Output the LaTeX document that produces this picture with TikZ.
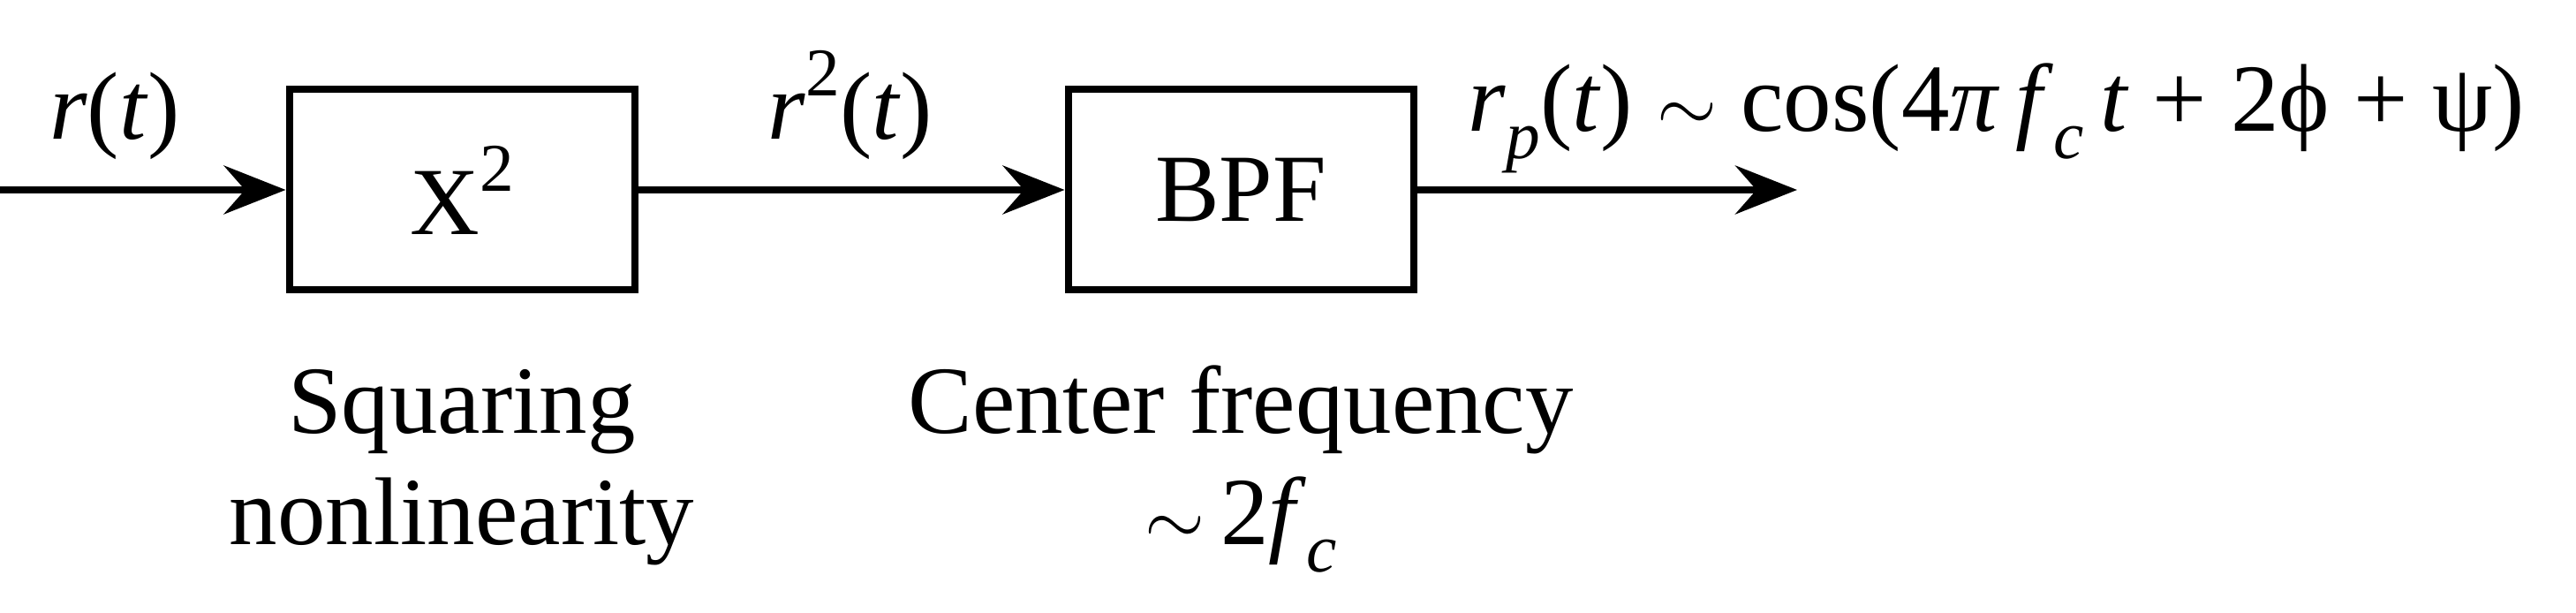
\documentclass[tikz,border=0pt]{standalone}
\usepackage{fontspec}
\setmainfont{Liberation Serif}
\usetikzlibrary{arrows.meta, positioning}
\tikzset{
	blk/.style ={rectangle, draw=black, line width=0.08cm, minimum width=3.91cm, minimum height=2.27cm, inner sep=0pt},
	sig/.style ={-{Stealth[length=7mm, width=5.5mm, inset=2.4mm]}, line width=0.08cm},
	lbl/.style ={anchor=base, inner sep=0pt},
	note/.style={align=center, anchor=base, inner sep=0pt},
}
\newcommand{\vi}[1]{\textit{#1}}
\newcommand{\lo}[1]{\raisebox{-0.28em}{\fontsize{22}{22}\selectfont #1}}
\newcommand{\hi}[1]{\raisebox{0.45em}{\fontsize{22}{22}\selectfont #1}}

\begin{document}
\begin{tikzpicture}[every node/.style={font=\fontsize{31}{36}\selectfont}]
	\useasboundingbox (0,0) rectangle (29.17,6.94);
	\coordinate (in) at (0,4.79);
	\node[blk] (sq) at (5.23,4.79) {X\hi{2}};
	\node[blk] (bpf) at (14.05,4.79) {BPF};
	\coordinate (out) at (20.35,4.79);
	\draw[sig] (in) -- (sq); \draw[sig] (sq) -- (bpf); \draw[sig] (bpf) -- (out);
	% signal labels
	\node[lbl] (rin) at (1.30,5.36) {\vi{r}(\vi{t})};
	\node[lbl] (rsq) at (9.63,5.36) {\vi{r}\hi{2}(\vi{t})};
	\node[lbl, anchor=base west] (rp) at (16.62,5.45) {\vi{r}\lo{\vi{p}}(\vi{t}) $\sim$ cos(4\vi{π}\,\vi{f}\lo{\vi{c}}\,\vi{t} + 2ϕ + ψ)};
	% block notes
	\node[note] (sqnote) at (5.23,0.77) {Squaring\\nonlinearity};
	\node[note] (bpfnote) at (14.05,0.77) {Center frequency\\$\sim$\,2\vi{f}\lo{\vi{c}}};
\end{tikzpicture}
\end{document}
